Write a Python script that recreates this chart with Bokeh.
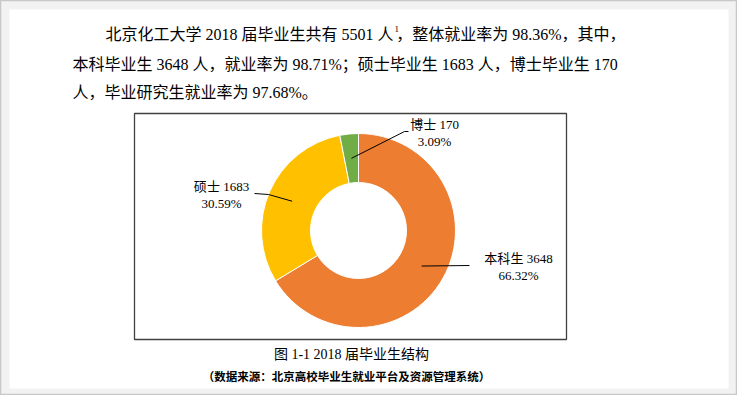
import math
from bokeh.plotting import figure
from bokeh.models import Range1d, ColumnDataSource
from bokeh.core.properties import value
from bokeh.embed import file_html
from bokeh.resources import INLINE

# ---------------- data ----------------
categories = ["本科生", "硕士", "博士"]
counts = [3648, 1683, 170]
percents = [66.32, 30.59, 3.09]
colors = ["#ED7D31", "#FFC000", "#70AD47"]
total_graduates = 5501
overall_rate = "98.36%"
undergrad_rate = "98.71%"
postgrad_rate = "97.68%"
caption = "图 1-1 2018 届毕业生结构"
source_note = "（数据来源：北京高校毕业生就业平台及资源管理系统）"

# ---------------- layout ----------------
W, H = 737, 395
FONT = value("'Liberation Serif', 'Noto Sans CJK SC'")
CJK = value("'Noto Sans CJK SC'")

def Y(py):
    return -py

p = figure(width=W, height=H, output_backend="svg", toolbar_location=None,
           x_range=Range1d(8, 8 + W), y_range=Range1d(-(8 + H), -8),
           min_border=0, match_aspect=False)
p.axis.visible = False
p.grid.visible = False
p.outline_line_color = "#c8c8c8"
p.outline_line_width = 1.5
p.background_fill_color = "#f2f2f2"
p.border_fill_color = "#f2f2f2"

# inner white page
p.quad(left=[17], right=[736], top=[Y(17)], bottom=[Y(396)],
       fill_color="white", line_color=None)

# paragraph text
l1a = f"北京化工大学 2018 届毕业生共有 {total_graduates} 人"
l1b = f"，整体就业率为 {overall_rate}，其中，"
l2 = (f"本科毕业生 {counts[0]} 人，就业率为 {undergrad_rate}；硕士毕业生 {counts[1]} 人，"
      f"博士毕业生 {counts[2]}")
l3 = f"人，毕业研究生就业率为 {postgrad_rate}。"

p.text(x=[113], y=[Y(42)], text=[l1a], text_font=FONT, text_font_size="16px",
       text_color="black", text_baseline="middle", text_align="left")
p.text(x=[402], y=[Y(36)], text=["1"], text_font=FONT, text_font_size="9px",
       text_color="black", text_baseline="middle", text_align="left")
p.text(x=[633], y=[Y(42)], text=[l1b], text_font=FONT, text_font_size="16px",
       text_color="black", text_baseline="middle", text_align="right")
p.text(x=[80], y=[Y(72)], text=[l2], text_font=FONT, text_font_size="16px",
       text_color="black", text_baseline="middle", text_align="left")
p.text(x=[80], y=[Y(100)], text=[l3], text_font=FONT, text_font_size="16px",
       text_color="black", text_baseline="middle", text_align="left")

# chart box
p.quad(left=[142], right=[574], top=[Y(121)], bottom=[Y(347)],
       fill_color="white", line_color="#404040", line_width=1.3)

# donut
cx, cy = 366, 238
r_out, r_in = 97, 48
tot = sum(counts)
cum = [0]
for c in counts:
    cum.append(cum[-1] + c / tot)
starts = [math.pi / 2 - 2 * math.pi * cum[i + 1] for i in range(len(counts))]
ends = [math.pi / 2 - 2 * math.pi * cum[i] for i in range(len(counts))]
mids = [(s + e) / 2 for s, e in zip(starts, ends)]
src = ColumnDataSource(dict(x=[cx] * 3, y=[Y(cy)] * 3, start=starts, end=ends, color=colors))
p.annular_wedge(x="x", y="y", inner_radius=r_in, outer_radius=r_out,
                start_angle="start", end_angle="end", fill_color="color",
                line_color="white", line_width=1, source=src)

# leader lines & labels
r_mid = (r_in + r_out) / 2
leader_ends = [[(477, 273)], [(276, 202), (262, 201)], [(412, 139), (416, 139)]]
label_x = [526, 229, 442]
label_y = [266, 194, 132]
xs, ys = [], []
for m, pts in zip(mids, leader_ends):
    sx = cx + r_mid * math.cos(m)
    sy = cy - r_mid * math.sin(m)
    xs.append([sx] + [q[0] for q in pts])
    ys.append([Y(sy)] + [Y(q[1]) for q in pts])
p.multi_line(xs=xs, ys=ys, line_color="black", line_width=1)

line1 = [f"{c} {n}" for c, n in zip(categories, counts)]
line2 = [f"{v:.2f}%" for v in percents]
p.text(x=label_x, y=[Y(v) for v in label_y], text=line1, text_font=FONT,
       text_font_size="13px", text_color="black", text_baseline="middle", text_align="center")
p.text(x=label_x, y=[Y(v + 17) for v in label_y], text=line2, text_font=FONT,
       text_font_size="13px", text_color="black", text_baseline="middle", text_align="center")

# caption & source
p.text(x=[359], y=[Y(362)], text=[caption], text_font=FONT, text_font_size="14px",
       text_color="black", text_baseline="middle", text_align="center")
p.text(x=[354], y=[Y(383)], text=[source_note], text_font=CJK, text_font_size="11.5px",
       text_font_style="bold", text_color="black", text_baseline="middle", text_align="center")

open("out.html", "w").write(file_html(p, INLINE))
